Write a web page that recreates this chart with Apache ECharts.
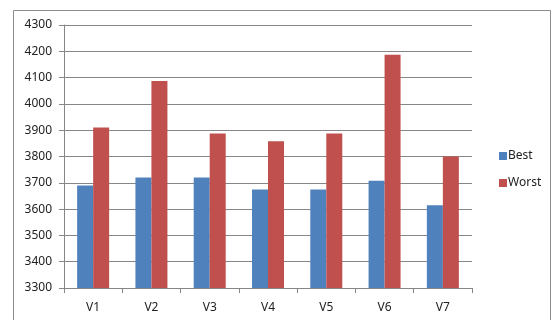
<!DOCTYPE html>
<html>
<head>
<meta charset="utf-8">
<script src="https://cdn.jsdelivr.net/npm/echarts@6/dist/echarts.min.js"></script>
<style>
  html, body { margin: 0; padding: 0; background: #fff; }
  #chart { width: 552px; height: 320px; }
</style>
</head>
<body>
<div id="chart"></div>
<script>
// Category names and the two measured series
const categories = ['V1', 'V2', 'V3', 'V4', 'V5', 'V6', 'V7'];
const bestValues = [3690, 3720, 3720, 3675, 3675, 3708, 3615];
const worstValues = [3910, 4087, 3887, 3858, 3887, 4187, 3800];
const yMin = 3300;
const yMax = 4300;
const yStep = 100;

const fontFamily = '"Noto Sans", "Open Sans", sans-serif';
const chart = echarts.init(document.getElementById('chart'), null, { renderer: 'canvas' });

chart.setOption({
  animation: false,
  backgroundColor: '#ffffff',
  textStyle: { fontFamily: fontFamily },
  graphic: [{
    type: 'rect',
    shape: { x: 13.5, y: 10.5, width: 537, height: 330 },
    style: { fill: 'none', stroke: '#8c8c8c', lineWidth: 1 },
    silent: true
  }],
  grid: { left: 64, right: 80, top: 25, bottom: 32 },
  legend: {
    orient: 'vertical',
    left: 494,
    top: 145,
    itemWidth: 8,
    itemHeight: 8,
    itemGap: 15,
    icon: 'rect',
    textStyle: { fontSize: 12, color: '#222', padding: [0, 0, 0, -4], fontFamily: fontFamily },
    data: ['Best', 'Worst']
  },
  xAxis: {
    type: 'category',
    data: categories,
    axisLine: { lineStyle: { color: '#868686' } },
    axisTick: { show: true, length: 5, lineStyle: { color: '#868686' } },
    axisLabel: { color: '#222', fontSize: 12, margin: 14, fontFamily: fontFamily },
    splitLine: { show: false }
  },
  yAxis: {
    type: 'value',
    min: yMin,
    max: yMax,
    interval: yStep,
    axisLine: { show: true, lineStyle: { color: '#868686' } },
    axisTick: { show: true, length: 5, lineStyle: { color: '#868686' } },
    axisLabel: {
      color: '#222',
      fontSize: 12,
      margin: 12,
      fontFamily: fontFamily,
      formatter: function (v) { return String(v); }
    },
    splitLine: { show: true, lineStyle: { color: '#868686', width: 1 } }
  },
  series: [
    {
      name: 'Best',
      type: 'bar',
      data: bestValues,
      barWidth: 16,
      barGap: '0%',
      itemStyle: { color: '#4f81bd' }
    },
    {
      name: 'Worst',
      type: 'bar',
      data: worstValues,
      barWidth: 16,
      barGap: '0%',
      itemStyle: { color: '#c0504d' }
    }
  ]
});
</script>
</body>
</html>
